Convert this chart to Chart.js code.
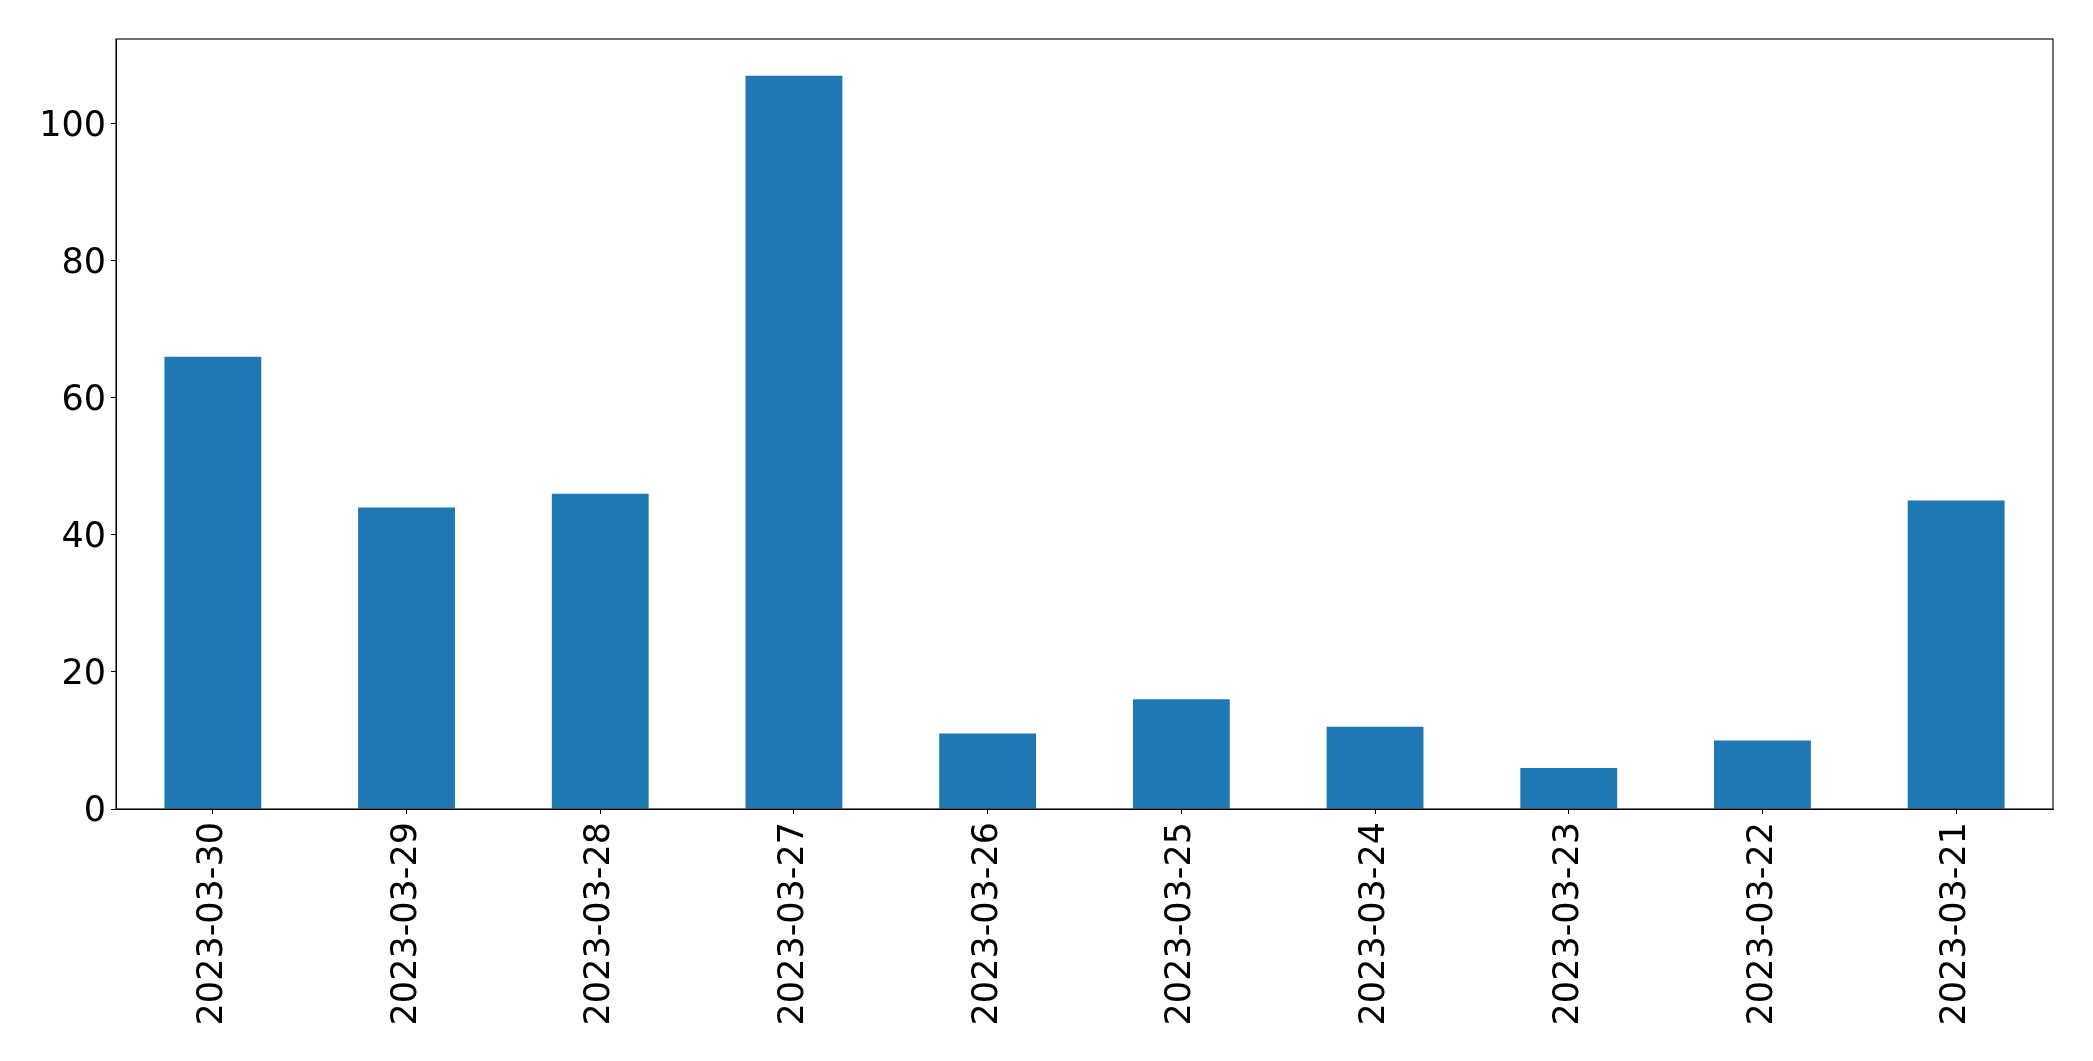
<!DOCTYPE html>
<html>
<head>
<meta charset="utf-8">
<script src="https://cdn.jsdelivr.net/npm/chart.js@4/dist/chart.umd.min.js"></script>
<style>
  html, body { margin: 0; padding: 0; background: #fff; }
</style>
</head>
<body>
<canvas id="myChart" width="2093" height="1061"></canvas>
<script>
const dates = ['2023-03-30', '2023-03-29', '2023-03-28', '2023-03-27', '2023-03-26',
               '2023-03-25', '2023-03-24', '2023-03-23', '2023-03-22', '2023-03-21'];
const counts = [66, 44, 46, 107, 11, 16, 12, 6, 10, 45];
const yMax = 112.35;
const yStep = 20;

// top/right spines like the original frame
const framePlugin = {
  id: 'frame',
  afterDraw(chart) {
    const a = chart.chartArea;
    const c = chart.ctx;
    c.save();
    c.strokeStyle = '#000';
    c.lineWidth = 1.1;
    c.strokeRect(a.left, a.top, a.right - a.left, a.bottom - a.top);
    c.restore();
  }
};

const ctx = document.getElementById('myChart').getContext('2d');
new Chart(ctx, {
  type: 'bar',
  data: {
    labels: dates,
    datasets: [{
      data: counts,
      backgroundColor: '#1f77b4',
      barPercentage: 0.5,
      categoryPercentage: 1.0
    }]
  },
  options: {
    responsive: false,
    animation: false,
    layout: { padding: { top: 39, right: 40, left: 0, bottom: 0 } },
    plugins: { legend: { display: false }, tooltip: { enabled: false } },
    scales: {
      x: {
        afterFit(scale) { scale.height = 252; },
        grid: { offset: false, drawOnChartArea: false, drawTicks: true, tickLength: 5, color: '#000' },
        border: { display: true, color: '#000', width: 1 },
        ticks: {
          minRotation: 90, maxRotation: 90, autoSkip: false, padding: 8,
          color: '#000', font: { family: 'DejaVu Sans', size: 35 }
        }
      },
      y: {
        min: 0,
        max: yMax,
        afterFit(scale) { scale.width = 116; },
        grid: { drawOnChartArea: false, drawTicks: true, tickLength: 5, color: '#000' },
        border: { display: true, color: '#000', width: 1 },
        ticks: {
          stepSize: yStep, includeBounds: false, padding: 5, labelOffset: 3,
          color: '#000', font: { family: 'DejaVu Sans', size: 35 }
        }
      }
    }
  },
  plugins: [framePlugin]
});
</script>
</body>
</html>
